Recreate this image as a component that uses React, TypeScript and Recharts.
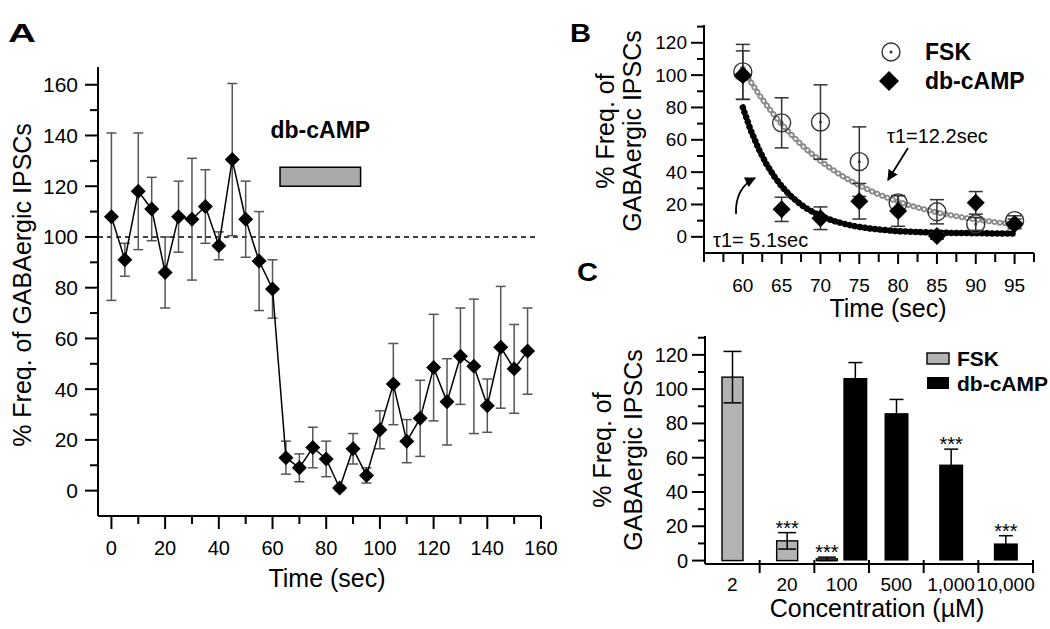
import React from 'react'
import {
  LineChart,
  ComposedChart,
  BarChart,
  Line,
  Bar,
  XAxis,
  YAxis,
  ErrorBar,
  ReferenceLine,
  ReferenceArea,
} from 'recharts'

const FONT = '"Liberation Sans", Arial, Helvetica, sans-serif'
const AXIS = { stroke: '#000', strokeWidth: 2 }

// ---- panel A: time course, db-cAMP application ----
const timeA = [0, 5, 10, 15, 20, 25, 30, 35, 40, 45, 50, 55, 60, 65, 70, 75, 80, 85, 90, 95, 100, 105, 110, 115, 120, 125, 130, 135, 140, 145, 150, 155]
const freqA = [108, 91, 118, 111, 86, 108, 107, 112, 96.5, 130.5, 107, 90.5, 79.5, 13, 9, 17, 12.5, 1, 16.5, 6, 24, 42, 19.5, 28.5, 48.5, 35, 53, 49, 33.5, 56.5, 48, 55]
const errA = [33, 6.5, 23, 12.5, 14, 14, 24, 14.5, 5.5, 30, 15, 19.5, 11.5, 6.5, 5.5, 8, 7, 1, 6, 3, 7.5, 16, 8.5, 15, 21, 17, 19, 26.5, 10.5, 24, 17.5, 17]
const ticksAx = [0, 10, 20, 30, 40, 50, 60, 70, 80, 90, 100, 110, 120, 130, 140, 150, 160]
const ticksAy = [0, 10, 20, 30, 40, 50, 60, 70, 80, 90, 100, 110, 120, 130, 140, 150, 160]

// ---- panel B: decay after washout ----
const timeB = [60, 65, 70, 75, 80, 85, 90, 95]
const fskB = [102, 70.5, 71, 46.5, 21, 15.5, 8, 10]
const fskErrB = [17, 15.5, 23, 21.5, 4.5, 7.5, 4, 3]
const dbB = [100, 17, 11.5, 22, 16, 0.5, 21, 8]
const dbErrB = [15, 7.5, 7, 11, 9.5, 2, 7, 3]
const fitTimeB = [60, 61, 62, 63, 64, 65, 66, 67, 68, 69, 70, 71, 72, 73, 74, 75, 76, 77, 78, 79, 80, 81, 82, 83, 84, 85, 86, 87, 88, 89, 90, 91, 92, 93, 94, 95]
const fitFskB = [104, 96.0, 88.6, 81.8, 75.5, 69.7, 64.4, 59.5, 54.9, 50.8, 46.9, 43.4, 40.1, 37.1, 34.4, 31.8, 29.5, 27.3, 25.3, 23.5, 21.8, 20.2, 18.8, 17.5, 16.3, 15.1, 14.1, 13.2, 12.3, 11.5, 10.7, 10.0, 9.4, 8.8, 8.3, 7.8]
const fitDbB = [80, 66.1, 54.7, 45.3, 37.6, 31.3, 26.0, 21.8, 18.2, 15.4, 13.0, 11.0, 9.4, 8.1, 7.0, 6.1, 5.4, 4.8, 4.3, 3.9, 3.5, 3.3, 3.0, 2.9, 2.7, 2.6, 2.5, 2.4, 2.3, 2.3, 2.2, 2.2, 2.1, 2.1, 2.1, 2.1]
const ticksBx = [55, 57.5, 60, 62.5, 65, 67.5, 70, 72.5, 75, 77.5, 80, 82.5, 85, 87.5, 90, 92.5, 95, 97.5]
const ticksBy = [0, 10, 20, 30, 40, 50, 60, 70, 80, 90, 100, 110, 120, 130]

// ---- panel C: concentration response ----
const concC = ['2', '20', '100', '500', '1,000', '10,000']
const fskC = [107, 11.5, 1, null, null, null]
const fskErrC = [15, 4.8, 1, 0, 0, 0]
const fskSigC = ['', '***', '***', '', '', '']
const dbC = [null, null, 106.5, 86, 56, 10]
const dbErrC = [0, 0, 9, 8, 9, 4.5]
const dbSigC = ['', '', '', '', '***', '***']
const ticksCy = [0, 10, 20, 30, 40, 50, 60, 70, 80, 90, 100, 110, 120, 130]

const rowsA = timeA.map((t, i) => ({ t, v: freqA[i], e: errA[i] }))
const rowsFsk = timeB.map((t, i) => ({ t, v: fskB[i], e: fskErrB[i] }))
const rowsDb = timeB.map((t, i) => ({ t, v: dbB[i], e: dbErrB[i] }))
const rowsFit = fitTimeB.map((t, i) => ({ t, f: fitFskB[i], d: fitDbB[i] }))
const rowsC = concC.map((c, i) => ({
  c,
  fsk: fskC[i],
  fskErr: fskErrC[i],
  fskSig: fskSigC[i],
  db: dbC[i],
  dbErr: dbErrC[i],
  dbSig: dbSigC[i],
}))

// bar geometry for panel C
const FSK_W = 21
const DB_W = 24
const BAR_GAP = 6
const C_PLOT_W = 328
const BAND_C = C_PLOT_W / concC.length

function makeYTick(isMajor: (v: number) => boolean, majorLen: number, minorLen: number, gap: number, fontSize: number) {
  return (p: any) => {
    const v = p.payload.value
    const major = isMajor(v)
    const len = major ? majorLen : minorLen
    return (
      <g>
        <line x1={p.x - len} x2={p.x} y1={p.y} y2={p.y} stroke="#000" strokeWidth={2} />
        {major && (
          <text x={p.x - len - gap} y={p.y} textAnchor="end" dominantBaseline="central" fontSize={fontSize} fontFamily={FONT} fill="#000">
            {v}
          </text>
        )}
      </g>
    )
  }
}

function makeXTick(isMajor: (v: number) => boolean, majorLen: number, minorLen: number, labelDy: number, fontSize: number) {
  return (p: any) => {
    const v = p.payload.value
    const major = isMajor(v)
    const len = major ? majorLen : minorLen
    return (
      <g>
        <line x1={p.x} x2={p.x} y1={p.y} y2={p.y + len} stroke="#000" strokeWidth={2} />
        {major && (
          <text x={p.x} y={p.y + labelDy} textAnchor="middle" dominantBaseline="central" fontSize={fontSize} fontFamily={FONT} fill="#000">
            {v}
          </text>
        )}
      </g>
    )
  }
}

const Diamond = ({ cx, cy, r }: { cx?: number; cy?: number; r: number }) => {
  if (cx == null || cy == null) return <g />
  return <path d={`M${cx},${cy - r}L${cx + r},${cy}L${cx},${cy + r}L${cx - r},${cy}Z`} fill="#000" />
}

const OpenCircle = ({ cx, cy }: { cx?: number; cy?: number }) => {
  if (cx == null || cy == null) return <g />
  return (
    <g>
      <circle cx={cx} cy={cy} r={9} fill="none" stroke="#333" strokeWidth={1.4} />
      <circle cx={cx} cy={cy} r={1.5} fill="#333" />
    </g>
  )
}

function PanelA() {
  return (
    <LineChart width={560} height={629} data={rowsA} margin={{ top: 67, right: 19, bottom: 0, left: 0 }}>
      <XAxis
        dataKey="t"
        type="number"
        domain={[-5, 160]}
        ticks={ticksAx}
        interval={0}
        tickSize={0}
        tickMargin={0}
        tickLine={false}
        axisLine={AXIS}
        height={113}
        tick={makeXTick((v) => v % 20 === 0, 13, 8, 32, 20)}
      />
      <YAxis
        type="number"
        domain={[-10, 167]}
        ticks={ticksAy}
        interval={0}
        tickSize={0}
        tickMargin={0}
        tickLine={false}
        axisLine={AXIS}
        width={98}
        tick={makeYTick((v) => v % 20 === 0, 13, 8, 7, 21)}
      />
      <ReferenceLine
        segment={[
          { x: -5, y: 100 },
          { x: 158, y: 100 },
        ]}
        stroke="#000"
        strokeWidth={1.5}
        strokeDasharray="5 4"
      />
      <ReferenceArea
        x1={62.8}
        x2={92.8}
        y1={120}
        y2={127.5}
        fill="#aaa"
        fillOpacity={1}
        stroke="#000"
        strokeWidth={1.5}
        label={{ value: 'db-cAMP', position: 'top', offset: 29, fontSize: 23, fontWeight: 'bold', fill: '#000', fontFamily: FONT }}
      />
      <Line
        dataKey="v"
        type="linear"
        stroke="#000"
        strokeWidth={1.5}
        isAnimationActive={false}
        dot={(p: any) => <Diamond key={p.index} cx={p.cx} cy={p.cy} r={7.5} />}
        activeDot={false}
      >
        <ErrorBar dataKey="e" direction="y" width={5} stroke="#555" strokeWidth={1.5} />
      </Line>
    </LineChart>
  )
}

function PanelB() {
  return (
    <ComposedChart width={490} height={330} margin={{ top: 25, right: 16, bottom: 0, left: 0 }}>
      <XAxis
        dataKey="t"
        type="number"
        domain={[55, 97.5]}
        ticks={ticksBx}
        interval={0}
        tickSize={0}
        tickMargin={0}
        tickLine={false}
        axisLine={AXIS}
        height={77}
        tick={makeXTick((v) => v >= 60 && v <= 95 && v % 5 === 0, 11, 9, 32, 19)}
        allowDuplicatedCategory={false}
      />
      <YAxis
        type="number"
        domain={[-10, 131]}
        ticks={ticksBy}
        interval={0}
        tickSize={0}
        tickMargin={0}
        tickLine={false}
        axisLine={AXIS}
        width={144}
        tick={makeYTick((v) => v % 20 === 0 && v <= 120, 13, 7, 4, 19)}
      />
      <Line data={rowsFit} dataKey="f" type="linear" stroke="#8a8a8a" strokeWidth={6} strokeDasharray="0.1 5.4" strokeLinecap="round" dot={false} activeDot={false} isAnimationActive={false} />
      <Line data={rowsFit} dataKey="f" type="linear" stroke="#fff" strokeWidth={2.4} strokeDasharray="0.1 5.4" strokeLinecap="round" dot={false} activeDot={false} isAnimationActive={false} />
      <Line data={rowsFit} dataKey="d" type="linear" stroke="#000" strokeWidth={6.5} strokeDasharray="0.1 5" strokeLinecap="round" dot={false} activeDot={false} isAnimationActive={false} />
      <Line
        data={rowsFsk}
        dataKey="v"
        stroke="none"
        strokeWidth={0}
        isAnimationActive={false}
        activeDot={false}
        dot={(p: any) => <OpenCircle key={p.index} cx={p.cx} cy={p.cy} />}
      >
        <ErrorBar dataKey="e" direction="y" width={7} stroke="#333" strokeWidth={1.5} />
      </Line>
      <Line
        data={rowsDb}
        dataKey="v"
        stroke="none"
        strokeWidth={0}
        isAnimationActive={false}
        activeDot={false}
        dot={(p: any) => <Diamond key={p.index} cx={p.cx} cy={p.cy} r={9} />}
      >
        <ErrorBar dataKey="e" direction="y" width={7} stroke="#333" strokeWidth={1.5} />
      </Line>
    </ComposedChart>
  )
}

function makeBarShape(kind: 'fsk' | 'db') {
  return (props: any) => {
    const { x, y, width, height, payload } = props
    const v = payload[kind]
    if (v == null || !height) return <g />
    const other = kind === 'fsk' ? payload.db : payload.fsk
    const shift = other == null ? (kind === 'fsk' ? (BAR_GAP + DB_W) / 2 : -(BAR_GAP + FSK_W) / 2) : 0
    const bx = x + shift
    const cx = bx + width / 2
    const ppu = height / v
    const errPx = payload[kind + 'Err'] * ppu
    const top = y - errPx
    const cap = kind === 'fsk' ? 9 : 7
    const sig = payload[kind + 'Sig']
    return (
      <g>
        <rect
          x={bx}
          y={y}
          width={width}
          height={height}
          fill={kind === 'fsk' ? '#b3b3b3' : '#000'}
          stroke="#000"
          strokeWidth={kind === 'fsk' ? 1.4 : 0}
        />
        <line x1={cx} x2={cx} y1={top} y2={y + errPx} stroke="#000" strokeWidth={1.5} />
        <line x1={cx - cap} x2={cx + cap} y1={top} y2={top} stroke="#000" strokeWidth={1.5} />
        <line x1={cx - cap} x2={cx + cap} y1={y + errPx} y2={y + errPx} stroke="#000" strokeWidth={1.5} />
        {sig && (
          <text x={cx} y={top + 2} textAnchor="middle" fontSize={20} fontFamily={FONT} fill="#000">
            {sig}
          </text>
        )}
      </g>
    )
  }
}

const CTick = (p: any) => (
  <g>
    <line x1={p.x + BAND_C / 2} x2={p.x + BAND_C / 2} y1={p.y - 4} y2={p.y + 9} stroke="#000" strokeWidth={2} />
    <text x={p.x} y={p.y + 20} textAnchor="middle" dominantBaseline="central" fontSize={19} fontFamily={FONT} fill="#000">
      {p.payload.value}
    </text>
  </g>
)

function PanelC() {
  return (
    <BarChart width={490} height={309} data={rowsC} margin={{ top: 16, right: 17, bottom: 0, left: 0 }} barGap={BAR_GAP}>
      <XAxis dataKey="c" interval={0} tickSize={0} tickMargin={0} tickLine={false} axisLine={AXIS} height={65} tick={CTick} />
      <YAxis
        type="number"
        domain={[-2, 131]}
        ticks={ticksCy}
        interval={0}
        tickSize={0}
        tickMargin={0}
        tickLine={false}
        axisLine={AXIS}
        width={145}
        tick={makeYTick((v) => v % 20 === 0 && v <= 120, 13, 7, 4, 20)}
      />
      <Bar dataKey="fsk" barSize={FSK_W} isAnimationActive={false} shape={makeBarShape('fsk')} />
      <Bar dataKey="db" barSize={DB_W} isAnimationActive={false} shape={makeBarShape('db')} />
    </BarChart>
  )
}

function Overlay() {
  const t = { fontFamily: FONT, fill: '#000' }
  return (
    <svg width={1050} height={629} style={{ position: 'absolute', left: 0, top: 0, pointerEvents: 'none' }}>
      <defs>
        <marker id="ah" viewBox="0 0 10 10" refX="9" refY="5" markerWidth="6" markerHeight="6" orient="auto">
          <path d="M0,0 L10,5 L0,10 z" fill="#000" />
        </marker>
      </defs>
      {/* panel letters */}
      <text x={8} y={42} fontSize={25} fontWeight="bold" textLength={28} lengthAdjust="spacingAndGlyphs" {...t}>A</text>
      <text x={570} y={42} fontSize={25} fontWeight="bold" textLength={21} lengthAdjust="spacingAndGlyphs" {...t}>B</text>
      <text x={577} y={281} fontSize={25} fontWeight="bold" textLength={21} lengthAdjust="spacingAndGlyphs" {...t}>C</text>

      {/* panel A titles */}
      <text transform="translate(22,285) rotate(-90)" textAnchor="middle" dominantBaseline="central" fontSize={25} {...t}>
        % Freq. of GABAergic IPSCs
      </text>
      <text x={327} y={578} textAnchor="middle" dominantBaseline="central" fontSize={25} {...t}>Time (sec)</text>

      {/* panel B titles */}
      <text transform="translate(605,131) rotate(-90)" textAnchor="middle" dominantBaseline="central" fontSize={25} {...t}>% Freq. of</text>
      <text transform="translate(632,131) rotate(-90)" textAnchor="middle" dominantBaseline="central" fontSize={25} {...t}>GABAergic IPSCs</text>
      <text x={888} y={308} textAnchor="middle" dominantBaseline="central" fontSize={25} {...t}>Time (sec)</text>

      {/* panel B legend */}
      <circle cx={891} cy={52} r={9} fill="none" stroke="#333" strokeWidth={1.4} />
      <circle cx={891} cy={52} r={1.5} fill="#333" />
      <text x={925} y={52} dominantBaseline="central" fontSize={23} fontWeight="bold" {...t}>FSK</text>
      <path d="M889,71L899,81L889,91L879,81Z" fill="#000" />
      <text x={925} y={81} dominantBaseline="central" fontSize={23} fontWeight="bold" {...t}>db-cAMP</text>

      {/* panel B fit annotations */}
      <text x={887} y={136} dominantBaseline="central" fontSize={20} {...t}>τ1=12.2sec</text>
      <line x1={908} y1={148} x2={888} y2={180} stroke="#000" strokeWidth={1.8} markerEnd="url(#ah)" />
      <text x={713} y={240} dominantBaseline="central" fontSize={20} {...t}>τ1= 5.1sec</text>
      <path d="M736,214 Q735,188 755,178" fill="none" stroke="#000" strokeWidth={1.8} markerEnd="url(#ah)" />

      {/* panel C titles */}
      <text transform="translate(602,450) rotate(-90)" textAnchor="middle" dominantBaseline="central" fontSize={25} {...t}>% Freq. of</text>
      <text transform="translate(633,450) rotate(-90)" textAnchor="middle" dominantBaseline="central" fontSize={25} {...t}>GABAergic IPSCs</text>
      <text x={877} y={608} textAnchor="middle" dominantBaseline="central" fontSize={25} {...t}>Concentration (µM)</text>

      {/* panel C legend (db-cAMP runs off the right edge, as in the source figure) */}
      <rect x={927} y={353} width={22} height={11} fill="#b3b3b3" stroke="#000" strokeWidth={1.4} />
      <text x={957} y={358} dominantBaseline="central" fontSize={21} fontWeight="bold" {...t}>FSK</text>
      <rect x={927} y={377} width={22} height={12} fill="#000" />
      <text x={957} y={383} dominantBaseline="central" fontSize={21} fontWeight="bold" {...t}>db-cAMP</text>
    </svg>
  )
}

export default function App() {
  return (
    <div style={{ position: 'absolute', left: 0, top: 0, width: 1050, height: 629, background: '#fff', overflow: 'hidden', fontFamily: FONT }}>
      <div style={{ position: 'absolute', left: 0, top: 0 }}>
        <PanelA />
      </div>
      <div style={{ position: 'absolute', left: 560, top: 0 }}>
        <PanelB />
      </div>
      <div style={{ position: 'absolute', left: 560, top: 320 }}>
        <PanelC />
      </div>
      <Overlay />
    </div>
  )
}
